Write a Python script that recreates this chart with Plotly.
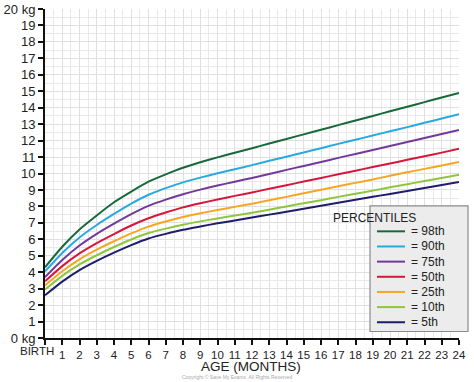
import plotly.graph_objects as go

months = list(range(0, 25))
x_tick_labels = [""] + [str(m) for m in range(1, 25)]
birth_label = "BIRTH"
x_title = "AGE (MONTHS)"
y_tick_vals = list(range(0, 21))
y_tick_labels = ["0 kg"] + [str(v) for v in range(1, 20)] + ["20 kg"]

p98 = [4.3, 5.55, 6.6, 7.45, 8.25, 8.9, 9.5, 9.95, 10.35, 10.68, 10.98, 11.26, 11.54,
       11.82, 12.1, 12.38, 12.66, 12.94, 13.22, 13.5, 13.78, 14.06, 14.34, 14.62, 14.9]
p90 = [4.05, 5.17, 6.11, 6.87, 7.54, 8.17, 8.71, 9.11, 9.46, 9.75, 10.01, 10.26, 10.51,
       10.77, 11.02, 11.28, 11.54, 11.8, 12.05, 12.31, 12.57, 12.82, 13.08, 13.34, 13.6]
p75 = [3.7, 4.74, 5.62, 6.33, 6.95, 7.53, 8.03, 8.41, 8.74, 9.02, 9.27, 9.5, 9.73,
       9.97, 10.22, 10.46, 10.7, 10.95, 11.19, 11.43, 11.67, 11.92, 12.16, 12.4, 12.65]
p50 = [3.45, 4.37, 5.14, 5.77, 6.32, 6.84, 7.28, 7.63, 7.94, 8.19, 8.42, 8.64, 8.85,
       9.07, 9.29, 9.51, 9.73, 9.95, 10.17, 10.39, 10.61, 10.83, 11.05, 11.27, 11.5]
p25 = [3.2, 4.06, 4.78, 5.37, 5.88, 6.36, 6.77, 7.08, 7.35, 7.58, 7.78, 7.97, 8.16,
       8.37, 8.58, 8.8, 9.01, 9.22, 9.43, 9.64, 9.86, 10.07, 10.28, 10.49, 10.7]
p10 = [2.95, 3.78, 4.47, 5.03, 5.53, 5.99, 6.38, 6.65, 6.89, 7.09, 7.27, 7.44, 7.61,
       7.8, 8.0, 8.19, 8.38, 8.58, 8.77, 8.96, 9.16, 9.35, 9.54, 9.73, 9.93]
p5 = [2.6, 3.43, 4.13, 4.69, 5.19, 5.65, 6.05, 6.33, 6.58, 6.78, 6.97, 7.14, 7.32,
      7.5, 7.68, 7.86, 8.04, 8.22, 8.4, 8.58, 8.76, 8.94, 9.12, 9.3, 9.48]

series_names = ["= 98th", "= 90th", "= 75th", "= 50th", "= 25th", "= 10th", "= 5th"]
series_values = [p98, p90, p75, p50, p25, p10, p5]
series_colors = ["#17683a", "#27a9e1", "#73399a", "#d5173b", "#f6a623", "#8dc63f", "#1e1d6b"]
legend_title = "PERCENTILES"

FONT = "Liberation Sans, Arial, sans-serif"

fig = go.Figure()
for name, vals, col in zip(series_names, series_values, series_colors):
    fig.add_trace(go.Scatter(x=months, y=vals, mode="lines", name=name, showlegend=False,
                             line=dict(color=col, width=2, shape="spline", smoothing=0.6)))

L, T, W, H = 45, 8.5, 414, 330


def px2paper(px, py):
    return (px - L) / W, (T + H - py) / H


fig.update_layout(
    width=474, height=382,
    margin=dict(l=L, r=474 - L - W, t=T, b=382 - T - H, autoexpand=False),
    paper_bgcolor="white", plot_bgcolor="white",
    font=dict(family=FONT, size=13, color="#222"),
    xaxis=dict(
        range=[0, 24], tickmode="array", tickvals=months, ticktext=x_tick_labels,
        tickangle=0, automargin=False,
        showgrid=True, gridcolor="#e0e0e0", gridwidth=1,
        minor=dict(dtick=0.5, showgrid=True, gridcolor="#e9e9e9", gridwidth=1),
        showline=True, linecolor="#111", linewidth=2,
        ticks="outside", ticklen=5, tickwidth=1.5, tickcolor="#111",
        zeroline=False, tickfont=dict(size=11.5),
    ),
    yaxis=dict(
        range=[0, 20], tickmode="array", tickvals=y_tick_vals, ticktext=y_tick_labels,
        automargin=False,
        showgrid=True, gridcolor="#e0e0e0", gridwidth=1,
        minor=dict(dtick=0.5, showgrid=True, gridcolor="#e9e9e9", gridwidth=1),
        showline=True, linecolor="#111", linewidth=2,
        ticks="outside", ticklen=5, tickwidth=1.5, tickcolor="#111",
        zeroline=False, tickfont=dict(size=13),
    ),
)

# BIRTH label (left-shifted like the reference)
fig.add_annotation(text=birth_label, x=0, xref="x", y=0, yref="paper",
                   xanchor="right", yanchor="top", xshift=11, yshift=-5,
                   showarrow=False, font=dict(size=11.5, color="#222"))

# X axis title
ttx, tty = px2paper(251, 367.5)
fig.add_annotation(text=x_title, xref="paper", yref="paper", x=ttx, y=tty,
                   xanchor="center", yanchor="middle", showarrow=False, borderpad=0,
                   font=dict(size=13.5, color="#222"))

# Manual legend box
x0, y0 = px2paper(370, 332)
x1, y1 = px2paper(468, 206)
fig.add_shape(type="rect", xref="paper", yref="paper", x0=x0, y0=y0, x1=x1, y1=y1,
              fillcolor="#ececec", line=dict(color="#8a8a8a", width=1.2), layer="above")
tx, ty = px2paper(418, 218)
fig.add_annotation(text=legend_title, xref="paper", yref="paper", x=tx, y=ty,
                   showarrow=False, font=dict(size=12, color="#222"))
for i, (name, col) in enumerate(zip(series_names, series_colors)):
    py = 231.5 + i * 15.2
    lx0, ly = px2paper(377, py)
    lx1, _ = px2paper(405, py)
    fig.add_shape(type="line", xref="paper", yref="paper", x0=lx0, x1=lx1, y0=ly, y1=ly,
                  line=dict(color=col, width=2), layer="above")
    ax, ay = px2paper(409, py)
    fig.add_annotation(text=name, xref="paper", yref="paper", x=ax, y=ay,
                       xanchor="left", yanchor="middle", showarrow=False,
                       font=dict(size=12, color="#222"))

cx, cy = px2paper(237, 381.5)
fig.add_annotation(text="Copyright © Save My Exams. All Rights Reserved",
                   xref="paper", yref="paper", x=cx, y=cy, showarrow=False, borderpad=0,
                   yanchor="bottom", font=dict(size=5, color="#aaa"))

fig.write_html("out.html", config={"displayModeBar": False},
               post_script="document.body.style.margin='0';")
